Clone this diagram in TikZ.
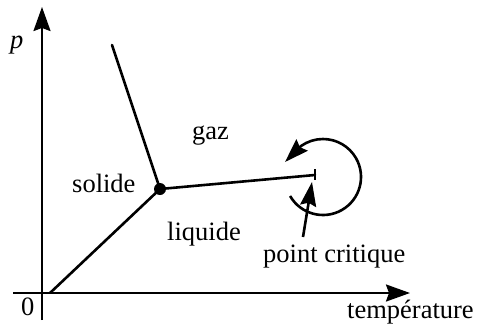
\documentclass[tikz,border=0pt]{standalone}
\usepackage{fontspec}
\setmainfont{Liberation Serif}
\usetikzlibrary{arrows.meta}
\begin{document}
\begin{tikzpicture}[x=1pt,y=-1pt,
  lbl/.style={inner sep=0pt, anchor=base west, font=\fontsize{26.5}{30}\selectfont},
  axis/.style={line width=2.2pt, -{Stealth[length=24pt,width=17pt,inset=3pt]}},
  phase/.style={line width=2.6pt, line cap=round},
  ptr/.style={line width=2.6pt, -{Stealth[length=24pt,width=16pt,inset=3pt]}},
  dot/.style={circle, fill=black, inner sep=0pt, minimum size=12pt}]
\useasboundingbox (0,0) rectangle (480,333);
% axes
\coordinate (xa0) at (13,293);
\coordinate (xa1) at (410,293);
\coordinate (ya0) at (42,320);
\coordinate (ya1) at (42,7);
\draw[axis] (xa0) -- (xa1);
\draw[axis] (ya0) -- (ya1);
% phase boundaries
\coordinate (O) at (50,293);
\coordinate (S) at (112,45);
\coordinate (C) at (315,175);
\coordinate (Ct) at (315,169);
\coordinate (Cb) at (315,180);
\node[dot] (T) at (160,189) {};
\draw[phase] (O) -- (T.center);
\draw[phase] (T.center) -- (S);
\draw[phase] (T.center) -- (C);
\draw[phase, line cap=butt] (Ct) -- (Cb);
% circular arrow around the critical point
\coordinate (A0) at (290.1,196);
\coordinate (A1) at (285,162);
\draw[ptr] (A0) arc[start angle=150, end angle=-125, radius=38] -- (A1);
% pointer to critical point
\coordinate (P0) at (303,237);
\coordinate (P1) at (312,182);
\draw[ptr] (P0) -- (P1);
% labels
\node[lbl] (lp) at (10,48) {\itshape p};
\node[lbl] (l0) at (21,315) {0};
\node[lbl] (lgaz) at (192,139) {gaz};
\node[lbl] (lsol) at (72,192) {solide};
\node[lbl] (lliq) at (167,240) {liquide};
\node[lbl] (lpc) at (263,262) {point critique};
\node[lbl] (ltemp) at (347,318) {température};
\end{tikzpicture}
\end{document}
